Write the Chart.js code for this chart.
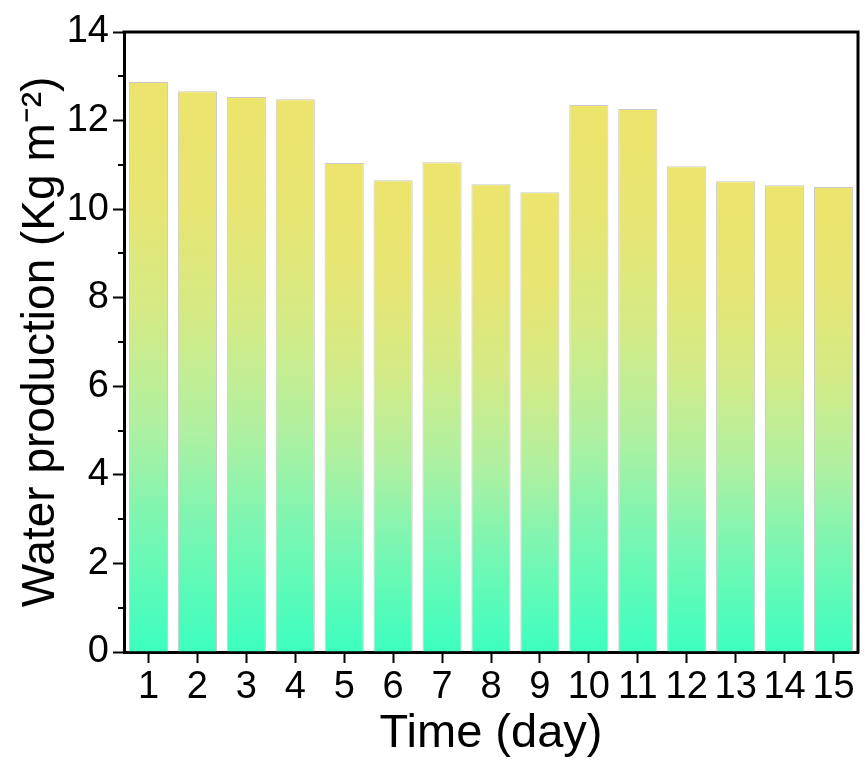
<!DOCTYPE html>
<html>
<head>
<meta charset="utf-8">
<script src="https://cdn.jsdelivr.net/npm/chart.js@4.4.1/dist/chart.umd.min.js"></script>
<style>
  body { margin: 0; background: #fff; }
  #wrap { width: 865px; height: 762px; }
</style>
</head>
<body>
<div id="wrap"><canvas id="myChart"></canvas></div>
<script>
var days = ['1', '2', '3', '4', '5', '6', '7', '8', '9', '10', '11', '12', '13', '14', '15']
var water = [12.87, 12.66, 12.53, 12.48, 11.04, 10.65, 11.06, 10.56, 10.38, 12.35, 12.26, 10.97, 10.63, 10.54, 10.50]
var yTicks = [0, 2, 4, 6, 8, 10, 12, 14]
var minorTicks = [1, 3, 5, 7, 9, 11, 13]

var fontName = "'Liberation Sans', Arial, sans-serif"

// each bar gets its own yellow -> green gradient (top to bottom)
function barGradient(context) {
    var chart = context.chart
    var area = chart.chartArea
    if (!area || context.raw == null) return '#cdec8a'
    var yScale = chart.scales.y
    var top = yScale.getPixelForValue(context.raw)
    var bottom = yScale.getPixelForValue(0)
    var g = chart.ctx.createLinearGradient(0, top, 0, bottom)
    g.addColorStop(0, '#ece46c')
    g.addColorStop(0.2, '#e8e572')
    g.addColorStop(0.4, '#d5ea85')
    g.addColorStop(0.6, '#b0f0a0')
    g.addColorStop(0.75, '#82f5b0')
    g.addColorStop(1, '#3cffc0')
    return g
}

// frame on top + right, minor ticks on y
var framePlugin = {
    id: 'frame',
    afterDraw: function (chart) {
        var ctx = chart.ctx
        var a = chart.chartArea
        var y = chart.scales.y
        ctx.save()
        ctx.strokeStyle = '#000'
        ctx.lineWidth = 3
        ctx.beginPath()
        ctx.moveTo(a.left - 1.5, a.top)
        ctx.lineTo(a.right, a.top)
        ctx.lineTo(a.right, a.bottom + 1.5)
        ctx.stroke()
        ctx.lineWidth = 2
        minorTicks.forEach(function (v) {
            var py = Math.round(y.getPixelForValue(v))
            ctx.beginPath()
            ctx.moveTo(a.left, py)
            ctx.lineTo(a.left - 6, py)
            ctx.stroke()
        })
        ctx.restore()
    }
}

new Chart('myChart', {
    type: 'bar',
    data: {
        labels: days,
        datasets: [{
            data: water,
            backgroundColor: barGradient,
            borderColor: '#c9c9c9',
            borderWidth: 1,
            barPercentage: 0.8,
            categoryPercentage: 1
        }]
    },
    options: {
        responsive: true,
        maintainAspectRatio: false,
        animation: false,
        layout: { padding: { top: 32, right: 7, left: 0, bottom: 0 } },
        plugins: { legend: { display: false }, tooltip: { enabled: false } },
        scales: {
            x: {
                grid: { drawOnChartArea: false, tickLength: 11, tickWidth: 2, tickColor: '#000', offset: false },
                border: { color: '#000', width: 3 },
                ticks: { color: '#000', font: { family: fontName, size: 38 }, padding: 2, autoSkip: false, maxRotation: 0 },
                title: { display: true, text: 'Time (day)', color: '#000', font: { family: fontName, size: 47 }, padding: { top: 0, bottom: 0 } },
                afterFit: function (scale) { scale.height = 110 }
            },
            y: {
                min: 0,
                max: 14,
                afterBuildTicks: function (scale) {
                    scale.ticks = yTicks.map(function (v) { return { value: v } })
                },
                grid: { drawOnChartArea: false, tickLength: 11, tickWidth: 2, tickColor: '#000' },
                border: { color: '#000', width: 3 },
                ticks: { color: '#000', font: { family: fontName, size: 38 }, padding: 4 },
                title: { display: true, text: 'Water production (Kg m⁻²)', color: '#000', font: { family: fontName, size: 46 }, padding: { top: 14, bottom: 0 } },
                afterFit: function (scale) { scale.width = 124 }
            }
        }
    },
    plugins: [framePlugin]
})
</script>
</body>
</html>
